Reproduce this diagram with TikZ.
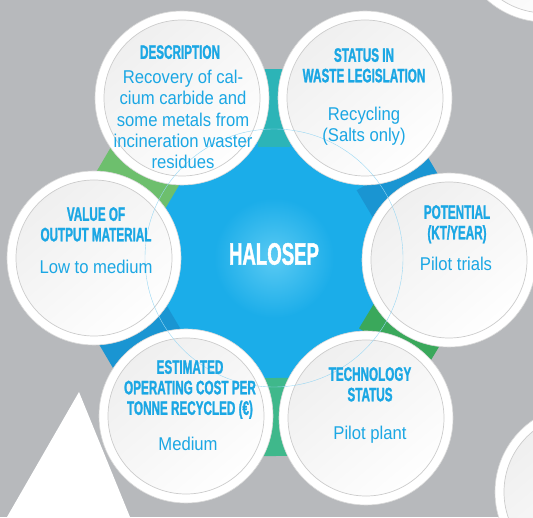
\documentclass[tikz,border=0pt]{standalone}
\usepackage{fontspec}
\usepackage{tikz}
\usetikzlibrary{calc, positioning}
\newfontfamily\headfont{Liberation Sans}[FakeStretch=0.6, FakeBold=1.2]
\newfontfamily\bodyfont{Liberation Sans}[FakeStretch=0.9]
\definecolor{bgGray}{HTML}{B7B9BC}
\definecolor{hubBlue}{HTML}{1BADE9}
\definecolor{hubGlow}{HTML}{5ACAF3}
\definecolor{txtBlue}{HTML}{1BA7E4}
\definecolor{linkTeal}{HTML}{2CB4B7}
\definecolor{linkBlue}{HTML}{1A95D2}
\definecolor{linkGreen}{HTML}{3AA85B}
\definecolor{linkSea}{HTML}{3FB88B}
\definecolor{linkLeaf}{HTML}{6DBF6D}

\begin{document}
\begin{tikzpicture}[x=1pt, y=1pt,
    disc/.style={circle, minimum size=174pt, inner sep=0pt, fill=white,
                 draw=gray!30, line width=0.6pt,
                 path picture={
                   \shade[top color=gray!13, bottom color=white, shading angle=40]
                     (path picture bounding box.center) circle (78pt);
                   \draw[gray!40, line width=0.7pt]
                     (path picture bounding box.center) circle (78pt);}},
    link/.style={rectangle, inner sep=0pt, minimum width=78pt,
                 minimum height=32pt},
    head/.style={font=\headfont\bfseries\fontsize{19.5}{20.5}\selectfont,
                 text=txtBlue, align=center, inner sep=0pt, anchor=north},
    body/.style={font=\bodyfont\fontsize{18.5}{21.2}\selectfont,
                 text=txtBlue, align=center, inner sep=0pt, anchor=north},
]
\useasboundingbox (0,0) rectangle (533,517);
\clip (0,0) rectangle (533,517);
\fill[bgGray] (0,0) rectangle (533,517);
\fill[white] (7,0) -- (79,125) -- (130,0) -- cycle;

% Disc centres
\coordinate (hub) at (274,259);
\coordinate (pdesc) at (182,419);
\coordinate (pstatus) at (365,419);
\coordinate (ppot) at (449,257);
\coordinate (ptech) at (366,99);
\coordinate (pcost) at (186,101);
\coordinate (pvalue) at (94,259);

% Hub
\fill[hubBlue] ($(pdesc)!0.5!(pstatus)$) -- ($(pstatus)!0.5!(ppot)$)
  -- ($(ppot)!0.5!(ptech)$) -- ($(ptech)!0.5!(pcost)$)
  -- ($(pcost)!0.5!(pvalue)$) -- ($(pvalue)!0.5!(pdesc)$) -- cycle;
\shade[inner color=hubGlow, outer color=hubBlue] (hub) circle (60);

% Links between the discs
\node[link, fill=linkTeal, rotate=90] (link1)
  at ($(pdesc)!0.5!(pstatus)!10pt!(hub)$) {};
\node[link, fill=linkBlue, rotate=30.7] (link2)
  at ($(pstatus)!0.5!(ppot)!10pt!(hub)$) {};
\node[link, fill=linkGreen, rotate=-31.2] (link3)
  at ($(ppot)!0.5!(ptech)!8pt!(hub)$) {};
\node[link, fill=linkSea, rotate=-89.3] (link4) at ($(ptech)!0.5!(pcost)$) {};
\node[link, fill=linkBlue, rotate=-149.5] (link5) at ($(pcost)!0.5!(pvalue)$) {};
\node[link, fill=linkLeaf, rotate=149.5] (link6) at ($(pvalue)!0.5!(pdesc)$) {};

% Discs
\node[disc] (desc) at (pdesc) {};
\node[disc] (status) at (pstatus) {};
\node[disc] (potential) at (ppot) {};
\node[disc] (tech) at (ptech) {};
\node[disc] (cost) at (pcost) {};
\node[disc] (value) at (pvalue) {};
\node[disc] (edgeA) at (545,582) {};
\node[disc] (edgeB) at (582,25) {};

\draw[txtBlue!45, line width=0.4pt] (hub) circle (129);

% Texts
\node[font=\headfont\bfseries\fontsize{31}{31}\selectfont, text=white]
  (hubtxt) at ($(hub)+(0,4)$) {HALOSEP};

\node[head] (desc-head) at ($(desc)+(-2,53)$) {DESCRIPTION};
\node[body] (desc-body) at ($(desc)+(1,28)$)
  {Recovery of cal-\\cium carbide and\\some metals from\\incineration waster\\residues};

\node[head] (status-head) at ($(status)+(-1,50)$) {STATUS IN\\WASTE LEGISLATION};
\node[body] (status-body) at ($(status)+(-1,-9)$) {Recycling\\(Salts only)};

\node[head] (pot-head) at ($(potential)+(8,55)$) {POTENTIAL\\(KT/YEAR)};
\node[body] (pot-body) at ($(potential)+(7,3)$) {Pilot trials};

\node[head] (tech-head) at ($(tech)+(4,51)$) {TECHNOLOGY\\STATUS};
\node[body] (tech-body) at ($(tech)+(4,-8)$) {Pilot plant};

\node[head] (cost-head) at ($(cost)+(4,56)$)
  {ESTIMATED\\OPERATING COST PER\\TONNE RECYCLED (€)};
\node[body] (cost-body) at ($(cost)+(2,-21)$) {Medium};

\node[head] (value-head) at ($(value)+(2,51)$) {VALUE OF\\OUTPUT MATERIAL};
\node[body] (value-body) at ($(value)+(2,-2)$) {Low to medium};
\end{tikzpicture}
\end{document}
